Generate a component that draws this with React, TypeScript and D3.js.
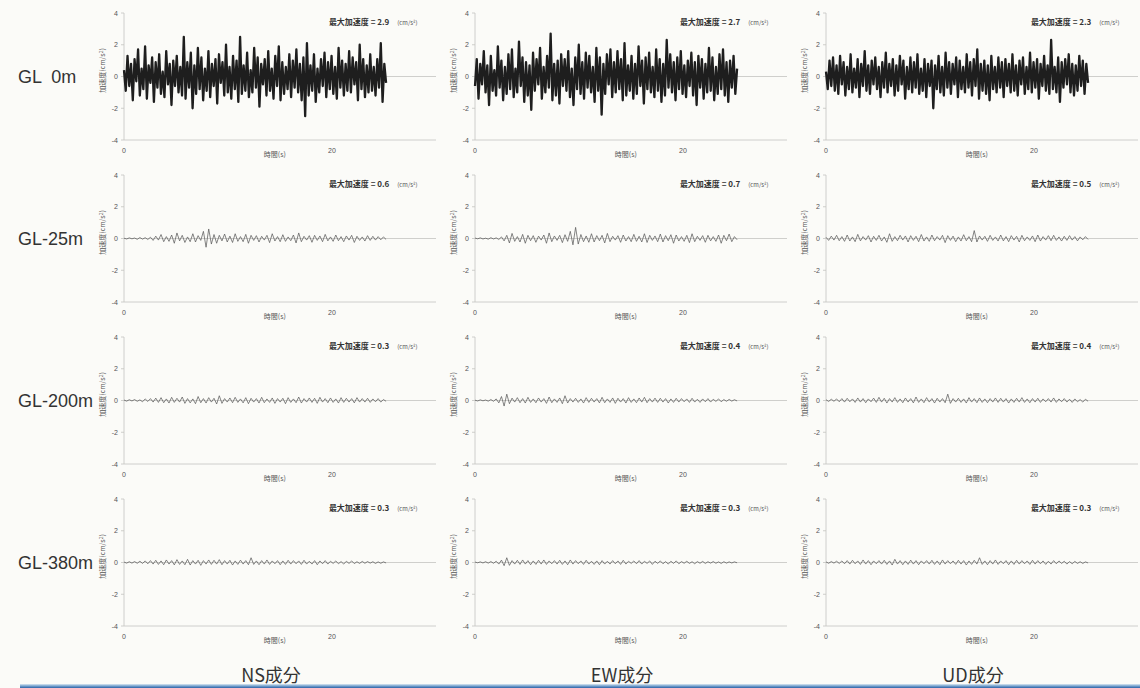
import * as d3 from 'd3';

// rows = depth, columns = component
const DEPTHS = ['GL  0m', 'GL-25m', 'GL-200m', 'GL-380m'];
const COMPONENTS = ['NS成分', 'EW成分', 'UD成分'];
const PEAK = [
  ['2.9', '2.7', '2.3'],
  ['0.6', '0.7', '0.5'],
  ['0.3', '0.4', '0.4'],
  ['0.3', '0.3', '0.3'],
];
const Y_TICKS = [-4, -2, 0, 2, 4];
const X_TICKS = [0, 20];
const RECORD_SECONDS = 25.2; // length of each record (s)

const NS_0 = [
  0.4,-0.9,1.3,-0.6,0.8,-1.5,1.1,-0.3,1.7,-1.2, 0.5,-0.8,1.9,-1.4,0.7,-0.4,1.2,-1.6,0.9,-0.7,
  1.4,-1.1,0.3,-1.3,1.6,-0.5,0.8,-1.8,1.0,-0.6, 1.3,-1.0,0.6,-1.2,2.5,-1.4,0.9,-0.7,1.5,-2.0,
  0.7,-1.1,1.8,-0.8,1.2,-1.5,0.5,-0.9,1.6,-1.3, 0.8,-0.6,1.1,-1.7,1.4,-0.4,0.9,-1.2,2.0,-1.0,
  0.6,-1.4,1.3,-0.8,1.0,-1.6,2.5,-1.1,0.7,-0.9, 1.5,-1.3,0.4,-1.0,1.8,-0.7,1.2,-1.9,0.8,-0.5,
  1.1,-1.2,1.6,-0.9,0.5,-1.4,1.3,-0.6,1.9,-1.5, 0.9,-1.1,0.6,-0.8,1.4,-1.3,1.0,-0.7,1.7,-1.0,
  0.8,-1.5,1.2,-2.5,2.1,-1.2,0.7,-0.9,1.4,-1.6, 0.5,-1.0,1.1,-0.6,1.5,-1.3,0.9,-0.8,1.3,-1.1,
  0.6,-1.4,1.8,-0.7,1.0,-1.2,0.8,-0.9,1.6,-1.0, 1.2,-0.5,0.9,-1.5,2.0,-0.8,1.1,-1.3,0.7,-1.0,
  1.4,-0.9,0.6,-1.2,1.1,-0.7,2.1,-1.6,0.8,-0.4,
];
const EW_0 = [
  -0.6,1.1,-1.4,0.8,-0.5,1.6,-1.0,0.7,-1.8,1.3, -0.9,0.4,-1.2,1.9,-0.7,1.0,-1.5,0.6,-1.1,1.4,
  -0.8,1.7,-1.3,0.5,-1.0,2.2,-0.6,1.2,-1.6,0.9, -1.2,0.7,-2.1,1.5,-0.9,1.1,-0.5,1.8,-1.4,0.6,
  -1.0,1.3,-0.7,2.7,-1.5,0.8,-1.2,1.0,-1.7,1.4, -0.6,1.1,-0.9,1.6,-1.3,0.5,-1.8,1.2,-0.8,2.0,
  -1.1,0.9,-1.4,1.5,-0.7,1.3,-1.0,0.6,-1.6,1.8, -0.9,1.2,-2.4,0.8,-1.1,1.4,-0.5,1.7,-1.3,0.9,
  -1.0,1.6,-0.8,1.1,-1.5,2.1,-1.2,0.7,-0.9,1.3, -1.4,0.8,-1.1,1.9,-0.6,1.0,-1.7,1.2,-0.8,1.5,
  -1.0,0.6,-1.3,1.7,-0.9,1.1,-1.6,0.8,-1.2,2.3, -0.7,1.4,-1.0,0.9,-1.5,1.2,-0.8,1.6,-1.1,0.7,
  -1.3,1.0,-0.6,1.5,-1.2,0.9,-1.8,1.3,-0.7,1.1, -1.4,0.8,-1.0,1.8,-0.9,1.2,-1.5,0.6,-1.1,1.4,
  -0.8,1.7,-1.2,0.9,-1.6,1.0,-0.7,1.3,-1.1,0.5,
];
const UD_0 = [
  0.3,-0.8,1.0,-0.6,1.2,-0.9,0.7,-1.1,1.3,-0.5, 0.9,-1.2,0.6,-0.8,1.4,-1.0,0.5,-0.7,1.1,-1.3,
  0.8,-0.6,1.6,-0.9,0.7,-1.1,1.0,-0.5,1.2,-0.8, 0.6,-1.3,0.9,-0.7,1.5,-1.0,0.8,-0.6,1.1,-1.2,
  0.7,-0.9,1.3,-0.5,1.0,-1.4,0.6,-0.8,1.2,-1.0, 0.9,-0.7,1.4,-1.1,0.5,-0.9,1.1,-1.3,0.8,-0.6,
  1.0,-2.0,0.7,-0.8,1.3,-1.0,0.6,-1.2,1.5,-0.7, 0.9,-1.1,0.8,-0.5,1.2,-1.3,1.0,-0.8,0.6,-1.0,
  1.4,-0.7,0.9,-1.2,1.1,-0.6,1.7,-1.4,0.8,-0.9, 1.0,-1.1,0.7,-1.5,1.3,-0.8,0.6,-1.0,1.2,-0.7,
  0.9,-1.3,1.1,-0.6,0.8,-1.0,1.4,-0.9,0.7,-1.2, 1.0,-0.5,1.2,-1.1,0.6,-0.8,1.5,-1.0,0.9,-0.7,
  1.1,-1.4,0.8,-0.6,1.3,-0.9,0.7,-1.1,2.3,-0.8, 0.6,-1.0,1.2,-1.6,0.9,-0.7,1.1,-0.5,1.4,-1.0,
  0.8,-1.2,0.7,-0.9,1.3,-0.6,1.0,-1.1,0.8,-0.4,
];

const NS_25 = [
  0.02,-0.03,0.04,-0.02,0.03,-0.05,0.06,-0.04,0.05,-0.06, 0.08,-0.12,0.15,-0.1,0.25,-0.2,0.12,-0.18,0.22,-0.3,
  0.35,-0.15,0.2,-0.25,0.1,-0.2,0.3,-0.22,0.18,-0.12, 0.45,-0.55,0.6,-0.35,0.25,-0.3,0.2,-0.15,0.28,-0.22,
  0.15,-0.25,0.3,-0.18,0.12,-0.2,0.26,-0.3,0.2,-0.12, 0.18,-0.22,0.14,-0.1,0.2,-0.26,0.3,-0.16,0.12,-0.2,
  0.24,-0.18,0.1,-0.14,0.22,-0.28,0.35,-0.2,0.14,-0.1, 0.18,-0.24,0.2,-0.12,0.16,-0.2,0.26,-0.15,0.1,-0.18,
  0.22,-0.14,0.12,-0.2,0.16,-0.1,0.2,-0.25,0.14,-0.12, 0.1,-0.16,0.18,-0.12,0.14,-0.1,0.12,-0.08,0.1,-0.06,
];
const EW_25 = [
  0.03,-0.02,0.04,-0.03,0.02,-0.04,0.05,-0.03,0.04,-0.06, 0.1,-0.15,0.2,-0.28,0.32,-0.18,0.12,-0.22,0.26,-0.3,
  0.2,-0.14,0.18,-0.24,0.15,-0.1,0.22,-0.3,0.35,-0.2, 0.16,-0.12,0.2,-0.26,0.24,-0.18,0.45,-0.4,0.7,-0.35,
  0.25,-0.2,0.16,-0.24,0.3,-0.22,0.18,-0.14,0.2,-0.28, 0.32,-0.2,0.14,-0.1,0.18,-0.24,0.22,-0.16,0.12,-0.2,
  0.26,-0.18,0.14,-0.22,0.3,-0.25,0.2,-0.12,0.16,-0.2, 0.28,-0.22,0.18,-0.14,0.24,-0.3,0.22,-0.16,0.12,-0.18,
  0.2,-0.26,0.3,-0.2,0.14,-0.12,0.18,-0.24,0.2,-0.15, 0.12,-0.18,0.22,-0.3,0.2,-0.14,0.28,-0.2,0.12,-0.08,
];
const UD_25 = [
  0.08,-0.12,0.15,-0.1,0.2,-0.14,0.12,-0.18,0.22,-0.16, 0.1,-0.2,0.26,-0.15,0.12,-0.1,0.18,-0.22,0.14,-0.12,
  0.2,-0.16,0.1,-0.24,0.3,-0.18,0.12,-0.14,0.2,-0.1, 0.16,-0.22,0.18,-0.12,0.14,-0.2,0.25,-0.16,0.1,-0.18,
  0.22,-0.14,0.12,-0.1,0.2,-0.26,0.18,-0.12,0.15,-0.2, 0.1,-0.16,0.24,-0.14,0.12,-0.2,0.5,-0.22,0.16,-0.1,
  0.14,-0.18,0.2,-0.12,0.1,-0.16,0.22,-0.15,0.12,-0.2, 0.18,-0.1,0.14,-0.22,0.2,-0.14,0.1,-0.12,0.16,-0.2,
  0.22,-0.16,0.12,-0.1,0.18,-0.14,0.2,-0.12,0.1,-0.16, 0.14,-0.12,0.18,-0.1,0.12,-0.15,0.1,-0.08,0.12,-0.06,
];

const NS_200 = [
  0.03,-0.04,0.05,-0.03,0.06,-0.05,0.04,-0.08,0.1,-0.06, 0.12,-0.1,0.15,-0.12,0.18,-0.14,0.1,-0.16,0.2,-0.12,
  0.14,-0.1,0.22,-0.18,0.12,-0.15,0.1,-0.2,0.25,-0.14, 0.12,-0.16,0.18,-0.1,0.14,-0.22,0.3,-0.18,0.12,-0.1,
  0.16,-0.14,0.2,-0.12,0.1,-0.15,0.18,-0.2,0.14,-0.1, 0.12,-0.16,0.2,-0.14,0.1,-0.12,0.16,-0.18,0.12,-0.1,
  0.14,-0.2,0.18,-0.12,0.1,-0.14,0.22,-0.16,0.12,-0.1, 0.16,-0.12,0.14,-0.18,0.2,-0.1,0.12,-0.14,0.16,-0.12,
  0.1,-0.16,0.18,-0.12,0.14,-0.1,0.12,-0.15,0.18,-0.1, 0.12,-0.1,0.14,-0.12,0.1,-0.08,0.12,-0.1,0.06,-0.05,
];
const EW_200 = [
  0.02,-0.03,0.04,-0.02,0.03,-0.04,0.06,-0.05,0.1,-0.15, 0.25,-0.35,0.4,-0.2,0.15,-0.1,0.18,-0.14,0.12,-0.16,
  0.2,-0.12,0.1,-0.14,0.16,-0.1,0.12,-0.18,0.22,-0.14, 0.1,-0.12,0.16,-0.2,0.3,-0.16,0.12,-0.1,0.14,-0.12,
  0.1,-0.16,0.18,-0.12,0.14,-0.1,0.12,-0.15,0.2,-0.14, 0.1,-0.12,0.16,-0.18,0.14,-0.1,0.12,-0.16,0.18,-0.12,
  0.1,-0.14,0.16,-0.1,0.2,-0.14,0.12,-0.1,0.15,-0.12, 0.14,-0.1,0.12,-0.16,0.1,-0.12,0.14,-0.1,0.12,-0.08,
  0.1,-0.12,0.14,-0.1,0.08,-0.12,0.1,-0.08,0.12,-0.1, 0.08,-0.06,0.1,-0.08,0.06,-0.05,0.07,-0.04,0.05,-0.03,
];
const UD_200 = [
  0.05,-0.06,0.08,-0.05,0.1,-0.08,0.12,-0.1,0.14,-0.08, 0.1,-0.12,0.16,-0.1,0.12,-0.14,0.1,-0.08,0.15,-0.12,
  0.2,-0.1,0.14,-0.16,0.12,-0.1,0.18,-0.12,0.1,-0.14, 0.16,-0.1,0.12,-0.15,0.22,-0.12,0.1,-0.14,0.18,-0.1,
  0.12,-0.16,0.14,-0.1,0.12,-0.14,0.4,-0.18,0.12,-0.1, 0.14,-0.12,0.1,-0.16,0.18,-0.1,0.12,-0.14,0.16,-0.12,
  0.1,-0.14,0.12,-0.1,0.16,-0.12,0.14,-0.1,0.12,-0.16, 0.1,-0.12,0.14,-0.1,0.18,-0.12,0.1,-0.14,0.12,-0.1,
  0.14,-0.12,0.1,-0.08,0.12,-0.1,0.16,-0.12,0.1,-0.08, 0.12,-0.1,0.08,-0.12,0.1,-0.08,0.06,-0.1,0.08,-0.05,
];

const NS_380 = [
  0.03,-0.04,0.05,-0.04,0.06,-0.05,0.08,-0.06,0.1,-0.08, 0.12,-0.1,0.14,-0.12,0.1,-0.14,0.16,-0.1,0.12,-0.15,
  0.18,-0.12,0.1,-0.14,0.2,-0.16,0.12,-0.1,0.14,-0.18, 0.12,-0.1,0.16,-0.12,0.14,-0.1,0.18,-0.14,0.12,-0.1,
  0.14,-0.16,0.1,-0.12,0.15,-0.1,0.12,-0.14,0.3,-0.12, 0.1,-0.14,0.12,-0.1,0.16,-0.12,0.1,-0.08,0.12,-0.14,
  0.1,-0.12,0.14,-0.1,0.12,-0.08,0.1,-0.12,0.14,-0.1, 0.08,-0.1,0.12,-0.14,0.1,-0.08,0.12,-0.1,0.08,-0.06,
  0.1,-0.08,0.06,-0.1,0.08,-0.06,0.1,-0.07,0.05,-0.06, 0.07,-0.05,0.06,-0.04,0.05,-0.06,0.04,-0.05,0.04,-0.03,
];
const EW_380 = [
  0.03,-0.02,0.04,-0.03,0.05,-0.04,0.06,-0.05,0.08,-0.1, 0.15,-0.2,0.3,-0.18,0.12,-0.1,0.14,-0.12,0.16,-0.1,
  0.12,-0.14,0.1,-0.12,0.14,-0.1,0.16,-0.12,0.1,-0.08, 0.12,-0.1,0.14,-0.12,0.1,-0.14,0.16,-0.1,0.12,-0.08,
  0.1,-0.12,0.14,-0.1,0.08,-0.12,0.1,-0.14,0.12,-0.1, 0.08,-0.1,0.12,-0.08,0.1,-0.12,0.14,-0.1,0.08,-0.06,
  0.1,-0.08,0.12,-0.1,0.08,-0.06,0.1,-0.12,0.08,-0.06, 0.1,-0.08,0.06,-0.1,0.08,-0.06,0.1,-0.08,0.06,-0.05,
  0.08,-0.06,0.05,-0.08,0.06,-0.05,0.07,-0.06,0.05,-0.04, 0.06,-0.05,0.04,-0.06,0.05,-0.04,0.04,-0.03,0.04,-0.02,
];
const UD_380 = [
  0.04,-0.05,0.06,-0.04,0.08,-0.06,0.1,-0.08,0.12,-0.1, 0.14,-0.08,0.1,-0.12,0.16,-0.1,0.12,-0.14,0.1,-0.08,
  0.12,-0.1,0.14,-0.12,0.1,-0.16,0.2,-0.1,0.12,-0.14, 0.1,-0.12,0.15,-0.1,0.12,-0.14,0.1,-0.08,0.12,-0.1,
  0.14,-0.12,0.1,-0.14,0.16,-0.1,0.12,-0.08,0.1,-0.12, 0.14,-0.1,0.12,-0.16,0.1,-0.12,0.14,-0.1,0.3,-0.12,
  0.1,-0.14,0.12,-0.1,0.16,-0.12,0.1,-0.08,0.12,-0.14, 0.1,-0.12,0.14,-0.1,0.12,-0.08,0.1,-0.12,0.14,-0.1,
  0.12,-0.08,0.1,-0.12,0.08,-0.1,0.12,-0.08,0.1,-0.06, 0.08,-0.1,0.06,-0.08,0.07,-0.06,0.05,-0.06,0.04,-0.03,
];

const TRACES = [
  [NS_0, EW_0, UD_0],
  [NS_25, EW_25, UD_25],
  [NS_200, EW_200, UD_200],
  [NS_380, EW_380, UD_380],
];

const W = 1140;
const H = 688;
const COL_X = [124, 475, 826];
const ROW_Y = [13, 175, 337, 499];
const PW = 312;
const PH = 127;

const FONT = '"Noto Sans CJK JP", "Noto Sans", sans-serif';
const LABEL_FONT = '"Liberation Sans", Arial, sans-serif';

function Panel({ values, peak, x0, y0, heavy }: { values: number[]; peak: string; x0: number; y0: number; heavy: boolean }) {
  const x = d3.scaleLinear().domain([0, 30]).range([0, PW]);
  const y = d3.scaleLinear().domain([-4, 4]).range([PH, 0]);
  const dt = RECORD_SECONDS / (values.length - 1);
  const line = d3.line<number>().x((_, i) => x(i * dt)).y(v => y(v));

  return (
    <g transform={`translate(${x0},${y0})`}>
      {/* axes */}
      <line x1={0} x2={0} y1={y(4)} y2={y(-4)} stroke="#c4c4c0" strokeWidth={0.8} />
      <line x1={0} x2={PW} y1={y(0)} y2={y(0)} stroke="#c4c4c0" strokeWidth={0.8} />
      <line x1={0} x2={PW} y1={y(-4)} y2={y(-4)} stroke="#c4c4c0" strokeWidth={0.8} />
      {Y_TICKS.map(t => (
        <g key={t}>
          <line x1={-3} x2={0} y1={y(t)} y2={y(t)} stroke="#c4c4c0" strokeWidth={0.8} />
          <text x={-6} y={y(t) + 2.5} textAnchor="end" fontSize={7} fill="#555" fontFamily={LABEL_FONT}>{t}</text>
        </g>
      ))}
      {X_TICKS.map(t => (
        <text key={t} x={x(t)} y={y(-4) + 13} textAnchor="middle" fontSize={7} fill="#555" fontFamily={LABEL_FONT}>{t}</text>
      ))}
      <text x={x(14.5)} y={y(-4) + 17} textAnchor="middle" fontSize={7} fill="#555" fontFamily={FONT}>時間(s)</text>
      <text transform={`translate(-19,${y(0) - 6}) rotate(-90)`} textAnchor="middle" fontSize={7} fill="#555" fontFamily={FONT}>
        加速度(cm/s<tspan fontSize={5} dy={-2}>2</tspan><tspan dy={2}>)</tspan>
      </text>
      <text x={x(19.7)} y={y(4) + 12} fontSize={8} fill="#333" fontWeight="bold" fontFamily={FONT}>
        最大加速度 = {peak}
        <tspan dx={8} fontSize={6} fontWeight="normal" fill="#555">(cm/s²)</tspan>
      </text>
      <path
        d={line(values) || ''}
        fill="none"
        stroke={heavy ? '#1e1e1e' : '#5c5c5c'}
        strokeWidth={heavy ? 2.3 : 0.75}
        strokeLinejoin="round"
      />
    </g>
  );
}

export default function App() {
  return (
    <svg width={W} height={H} style={{ position: 'absolute', left: 0, top: 0, display: 'block', background: '#fbfbf8' }}>
      <defs>
        <linearGradient id="band" x1="0" y1="0" x2="0" y2="1">
          <stop offset="0%" stopColor="#dce8f2" />
          <stop offset="45%" stopColor="#7fa9d1" />
          <stop offset="100%" stopColor="#2c62a8" />
        </linearGradient>
      </defs>
      <rect width={W} height={H} fill="#fbfbf8" />
      {TRACES.map((row, r) => (
        <g key={r}>
          <text x={18} y={ROW_Y[r] + 70} fontSize={18} fill="#333" fontFamily={LABEL_FONT} style={{ whiteSpace: 'pre' }}>
            {DEPTHS[r]}
          </text>
          {row.map((vals, c) => (
            <Panel key={c} values={vals} peak={PEAK[r][c]} x0={COL_X[c]} y0={ROW_Y[r]} heavy={r === 0} />
          ))}
        </g>
      ))}
      {COMPONENTS.map((name, c) => (
        <text key={name} x={COL_X[c] + 147} y={682} textAnchor="middle" fontSize={18} fill="#333" fontFamily={FONT}>{name}</text>
      ))}
      <rect x={20} y={684} width={W - 20} height={4} fill="url(#band)" />
    </svg>
  );
}
